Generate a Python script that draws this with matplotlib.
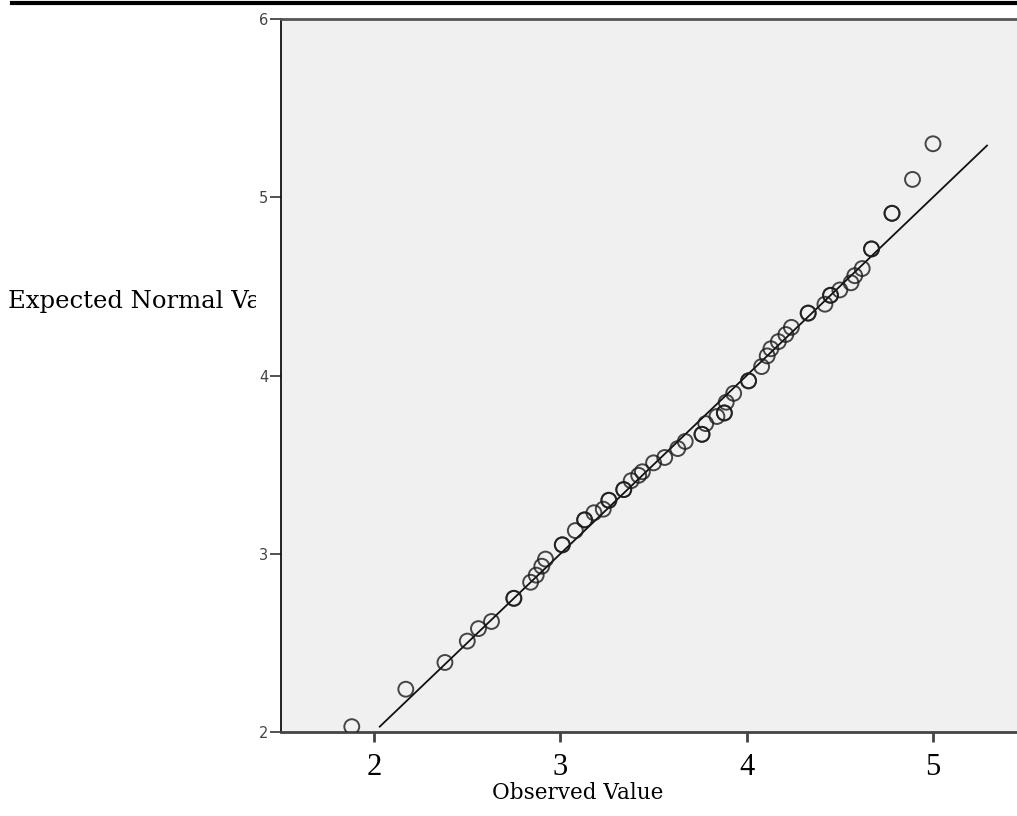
import matplotlib
matplotlib.use('Agg')
import matplotlib.pyplot as plt
from matplotlib.lines import Line2D
from matplotlib.transforms import Bbox, TransformedBbox

observed = [1.88, 2.17, 2.38, 2.50, 2.56, 2.63, 2.75, 2.75, 2.84, 2.87, 2.90, 2.92,
            3.01, 3.01, 3.08, 3.13, 3.13, 3.18, 3.23, 3.26, 3.26, 3.34, 3.34, 3.38, 3.42,
            3.44, 3.50, 3.56, 3.63, 3.67, 3.76, 3.76, 3.78, 3.84, 3.88, 3.88, 3.89, 3.93,
            4.01, 4.01, 4.08, 4.11, 4.13, 4.17, 4.21, 4.24, 4.33, 4.33, 4.42, 4.45, 4.45,
            4.50, 4.56, 4.58, 4.62, 4.67, 4.67, 4.78, 4.78, 4.89, 5.00]
expected = [2.03, 2.24, 2.39, 2.51, 2.58, 2.62, 2.75, 2.75, 2.84, 2.88, 2.93, 2.97,
            3.05, 3.05, 3.13, 3.19, 3.19, 3.23, 3.25, 3.30, 3.30, 3.36, 3.36, 3.41, 3.44,
            3.46, 3.51, 3.54, 3.59, 3.63, 3.67, 3.67, 3.73, 3.77, 3.79, 3.79, 3.85, 3.90,
            3.97, 3.97, 4.05, 4.11, 4.15, 4.19, 4.23, 4.27, 4.35, 4.35, 4.40, 4.45, 4.45,
            4.48, 4.52, 4.56, 4.60, 4.71, 4.71, 4.91, 4.91, 5.10, 5.30]
line_x = [2.03, 5.29]  # reference line y = x
x_ticks = [2, 3, 4, 5]
y_ticks = [2, 3, 4, 5, 6]

fig = plt.figure(figsize=(10.17, 8.16), dpi=100)
ax = fig.add_axes([281 / 1017, 1 - 732 / 816, 1 - 281 / 1017, 713 / 816])
ax.set_facecolor('#f0f0f0')

ax.plot(line_x, line_x, color='#111111', lw=1.3, zorder=2)
ax.scatter(observed, expected, s=115, facecolors='none', edgecolors='#1a1a1a',
           linewidths=1.4, alpha=0.8, zorder=3)

ax.set_xlim(1.5, 5.451)
ax.set_ylim(2, 6)
ax.set_xticks(x_ticks)
ax.set_yticks(y_ticks)
ax.set_xticklabels([str(t) for t in x_ticks], family='Liberation Serif', fontsize=22)
ax.set_yticklabels([str(t) for t in y_ticks], family='DejaVu Sans', fontsize=10.5, color='#444444')
ax.tick_params(axis='y', length=8, width=1.2, color='#333333', pad=1)
ax.tick_params(axis='x', length=7, width=2, color='#444444', pad=8)

ax.spines['right'].set_visible(False)
ax.spines['left'].set_color('#111111')
ax.spines['left'].set_linewidth(1.3)
ax.spines['bottom'].set_color('#444444')
ax.spines['bottom'].set_linewidth(2)
ax.spines['top'].set_color('#555555')
ax.spines['top'].set_linewidth(2)

# axis titles
fig.text(578 / 1017, 1 - 799 / 816, 'Observed Value', family='DejaVu Serif',
         fontsize=15.5, ha='center', va='baseline')
yl = fig.text(8 / 1017, 1 - 308 / 816, 'Expected Normal Value', family='DejaVu Serif',
              fontsize=17.5, ha='left', va='baseline')
yl.set_clip_box(TransformedBbox(Bbox([[0, 0], [256 / 1017, 1]]), fig.transFigure))
yl.set_clip_on(True)

# black rule across the top
fig.add_artist(Line2D([12 / 1017, 1], [1 - 3 / 816, 1 - 3 / 816], color='black',
                      lw=3, transform=fig.transFigure))

fig.savefig('out.png', dpi=100)
